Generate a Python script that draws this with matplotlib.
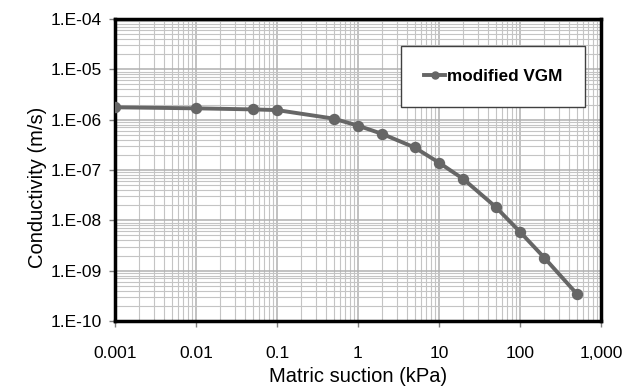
import numpy as np
import matplotlib.pyplot as plt
from matplotlib.ticker import FixedLocator, LogLocator, NullFormatter

plt.rcParams['font.family'] = ['Liberation Sans', 'DejaVu Sans']

# matric suction (kPa) and conductivity (m/s)
suction = [0.001, 0.01, 0.05, 0.1, 0.5, 1, 2, 5, 10, 20, 50, 100, 200, 500]
conductivity = [1.76e-6, 1.68e-6, 1.6e-6, 1.55e-6, 1.05e-6, 7.6e-7, 5.2e-7,
                2.8e-7, 1.4e-7, 6.6e-8, 1.85e-8, 5.9e-9, 1.8e-9, 3.5e-10]

x_ticks = [0.001, 0.01, 0.1, 1, 10, 100, 1000]
x_labels = ['0.001', '0.01', '0.1', '1', '10', '100', '1,000']
y_ticks = [1e-10, 1e-9, 1e-8, 1e-7, 1e-6, 1e-5, 1e-4]
y_labels = ['1.E-10', '1.E-09', '1.E-08', '1.E-07', '1.E-06', '1.E-05', '1.E-04']

fig = plt.figure(figsize=(6.37, 3.87), dpi=100)
ax = fig.add_axes([115 / 637, 1 - 321 / 387, 486 / 637, 302 / 387])

ax.plot(suction, conductivity, color='#666666', linewidth=2.8,
        marker='o', markersize=7.2, label='modified VGM', zorder=3)

ax.set_xscale('log')
ax.set_yscale('log')
ax.set_xlim(0.001, 1000)
ax.set_ylim(1e-10, 1e-4)

ax.xaxis.set_major_locator(FixedLocator(x_ticks))
ax.set_xticklabels(x_labels)
ax.yaxis.set_major_locator(FixedLocator(y_ticks))
ax.set_yticklabels(y_labels)
ax.xaxis.set_minor_locator(LogLocator(base=10, subs=np.arange(2, 10)))
ax.yaxis.set_minor_locator(LogLocator(base=10, subs=np.arange(2, 10)))
ax.xaxis.set_minor_formatter(NullFormatter())
ax.yaxis.set_minor_formatter(NullFormatter())

ax.grid(which='major', color='#b0b0b0', linewidth=1.1)
ax.grid(which='minor', color='#c4c4c4', linewidth=0.8)
ax.set_axisbelow(True)

ax.tick_params(which='major', direction='out', length=4, width=1,
               color='#808080', labelsize=12.5)
ax.tick_params(axis='y', pad=5.5)
ax.tick_params(axis='x', pad=14)
ax.tick_params(which='minor', length=0)

for s in ax.spines.values():
    s.set_linewidth(2.5)
    s.set_color('black')

ax.set_xlabel('Matric suction (kPa)', fontsize=14.5, labelpad=4)
ax.set_ylabel('Conductivity (m/s)', fontsize=14.5)
ax.yaxis.set_label_coords(-0.14, 0.444)

leg = ax.legend(loc='upper right', bbox_to_anchor=(0.967, 0.911), fontsize=12.3,
                frameon=True, fancybox=False, handlelength=1.2,
                handletextpad=0.1, borderpad=1.35, borderaxespad=0,
                markerscale=0.7)
leg.get_frame().set_edgecolor('#404040')
leg.get_frame().set_linewidth(1)
leg.get_frame().set_alpha(1)
for t in leg.get_texts():
    t.set_fontweight('bold')

fig.savefig('out.png', dpi=100)
